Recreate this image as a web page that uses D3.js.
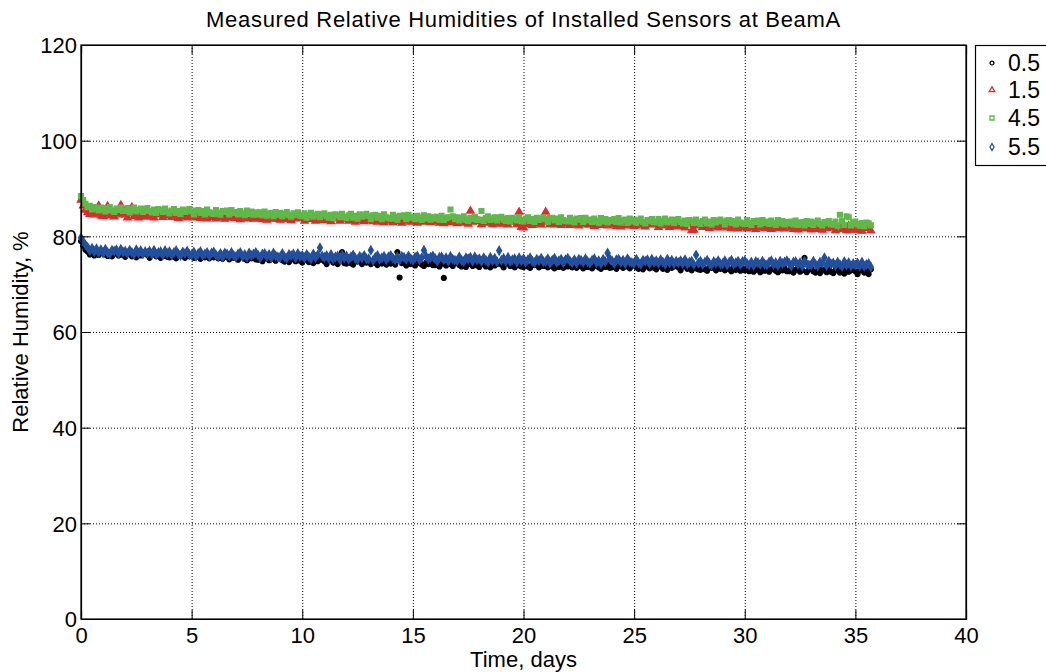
<!DOCTYPE html>
<html>
<head>
<meta charset="utf-8">
<script src="https://cdn.jsdelivr.net/npm/d3@7"></script>
<style>
  html, body { margin: 0; padding: 0; background: #fff; }
  svg { display: block; font-family: "Liberation Sans", Arial, sans-serif; }
</style>
</head>
<body>
<svg id="chart" width="1046" height="672"></svg>
<script>
// ---------------- data ----------------
const title = "Measured Relative Humidities of Installed Sensors at BeamA";
const xLabel = "Time, days";
const yLabel = "Relative Humidity, %";
const xTicks = [0, 5, 10, 15, 20, 25, 30, 35, 40];
const yTicks = [0, 20, 40, 60, 80, 100, 120];
const seriesNames = ["0.5", "1.5", "4.5", "5.5"];

// sample times (days), one row per day
const days = [
  0, 0.1, 0.2, 0.3, 0.4, 0.5, 0.6, 0.7, 0.8, 0.9,
  1, 1.1, 1.2, 1.3, 1.4, 1.5, 1.6, 1.7, 1.8, 1.9,
  2, 2.1, 2.2, 2.3, 2.4, 2.5, 2.6, 2.7, 2.8, 2.9,
  3, 3.1, 3.2, 3.3, 3.4, 3.5, 3.6, 3.7, 3.8, 3.9,
  4, 4.1, 4.2, 4.3, 4.4, 4.5, 4.6, 4.7, 4.8, 4.9,
  5, 5.1, 5.2, 5.3, 5.4, 5.5, 5.6, 5.7, 5.8, 5.9,
  6, 6.1, 6.2, 6.3, 6.4, 6.5, 6.6, 6.7, 6.8, 6.9,
  7, 7.1, 7.2, 7.3, 7.4, 7.5, 7.6, 7.7, 7.8, 7.9,
  8, 8.1, 8.2, 8.3, 8.4, 8.5, 8.6, 8.7, 8.8, 8.9,
  9, 9.1, 9.2, 9.3, 9.4, 9.5, 9.6, 9.7, 9.8, 9.9,
  10, 10.1, 10.2, 10.3, 10.4, 10.5, 10.6, 10.7, 10.8, 10.9,
  11, 11.1, 11.2, 11.3, 11.4, 11.5, 11.6, 11.7, 11.8, 11.9,
  12, 12.1, 12.2, 12.3, 12.4, 12.5, 12.6, 12.7, 12.8, 12.9,
  13, 13.1, 13.2, 13.3, 13.4, 13.5, 13.6, 13.7, 13.8, 13.9,
  14, 14.1, 14.2, 14.3, 14.4, 14.5, 14.6, 14.7, 14.8, 14.9,
  15, 15.1, 15.2, 15.3, 15.4, 15.5, 15.6, 15.7, 15.8, 15.9,
  16, 16.1, 16.2, 16.3, 16.4, 16.5, 16.6, 16.7, 16.8, 16.9,
  17, 17.1, 17.2, 17.3, 17.4, 17.5, 17.6, 17.7, 17.8, 17.9,
  18, 18.1, 18.2, 18.3, 18.4, 18.5, 18.6, 18.7, 18.8, 18.9,
  19, 19.1, 19.2, 19.3, 19.4, 19.5, 19.6, 19.7, 19.8, 19.9,
  20, 20.1, 20.2, 20.3, 20.4, 20.5, 20.6, 20.7, 20.8, 20.9,
  21, 21.1, 21.2, 21.3, 21.4, 21.5, 21.6, 21.7, 21.8, 21.9,
  22, 22.1, 22.2, 22.3, 22.4, 22.5, 22.6, 22.7, 22.8, 22.9,
  23, 23.1, 23.2, 23.3, 23.4, 23.5, 23.6, 23.7, 23.8, 23.9,
  24, 24.1, 24.2, 24.3, 24.4, 24.5, 24.6, 24.7, 24.8, 24.9,
  25, 25.1, 25.2, 25.3, 25.4, 25.5, 25.6, 25.7, 25.8, 25.9,
  26, 26.1, 26.2, 26.3, 26.4, 26.5, 26.6, 26.7, 26.8, 26.9,
  27, 27.1, 27.2, 27.3, 27.4, 27.5, 27.6, 27.7, 27.8, 27.9,
  28, 28.1, 28.2, 28.3, 28.4, 28.5, 28.6, 28.7, 28.8, 28.9,
  29, 29.1, 29.2, 29.3, 29.4, 29.5, 29.6, 29.7, 29.8, 29.9,
  30, 30.1, 30.2, 30.3, 30.4, 30.5, 30.6, 30.7, 30.8, 30.9,
  31, 31.1, 31.2, 31.3, 31.4, 31.5, 31.6, 31.7, 31.8, 31.9,
  32, 32.1, 32.2, 32.3, 32.4, 32.5, 32.6, 32.7, 32.8, 32.9,
  33, 33.1, 33.2, 33.3, 33.4, 33.5, 33.6, 33.7, 33.8, 33.9,
  34, 34.1, 34.2, 34.3, 34.4, 34.5, 34.6, 34.7, 34.8, 34.9,
  35, 35.1, 35.2, 35.3, 35.4, 35.5, 35.6, 35.7
];

// sensor at 0.5
const rh05 = [
  79.0, 78.0, 77.2, 76.8, 76.2, 76.9, 76.0, 76.7, 76.1, 76.5,
  76.8, 76.2, 75.9, 76.5, 75.8, 76.6, 76.4, 76.0, 76.7, 76.1,
  75.7, 76.3, 76.6, 75.8, 76.2, 75.6, 76.5, 76.0, 76.3, 76.6,
  76.1, 75.5, 76.3, 76.4, 75.8, 76.2, 75.5, 76.5, 75.9, 75.7,
  75.6, 76.4, 75.7, 75.4, 76.2, 76.0, 76.3, 75.5, 76.4, 75.8,
  76.0, 75.5, 76.2, 75.7, 75.3, 76.3, 75.6, 76.1, 75.4, 75.9,
  75.6, 76.0, 75.4, 76.2, 75.3, 75.7, 75.9, 75.2, 76.1, 75.5,
  75.8, 75.1, 75.6, 76.0, 75.3, 75.0, 75.7, 75.4, 75.9, 75.2,
  75.1, 75.7, 74.8, 75.4, 75.8, 75.0, 75.3, 75.6, 74.9, 75.5,
  75.6, 75.0, 74.7, 75.3, 74.6, 75.4, 75.2, 74.8, 75.5, 74.9,
  74.5, 75.1, 75.4, 74.6, 75.0, 74.4, 75.3, 74.8, 75.1, 75.4,
  74.8, 74.2, 75.0, 75.1, 74.5, 74.9, 74.2, 75.2, 76.7, 74.4,
  74.3, 75.1, 74.4, 74.1, 74.9, 74.7, 75.0, 74.2, 75.1, 74.5,
  74.7, 74.2, 74.9, 74.4, 74.0, 75.0, 74.3, 74.8, 74.1, 74.6,
  74.3, 74.7, 74.1, 76.7, 71.4, 74.4, 74.6, 73.9, 74.8, 74.2,
  74.6, 73.9, 74.4, 74.8, 74.1, 73.8, 74.5, 74.2, 74.7, 74.0,
  74.0, 74.6, 73.7, 74.3, 71.3, 73.9, 74.2, 74.5, 73.8, 74.4,
  74.6, 74.0, 73.7, 74.3, 73.6, 74.4, 74.2, 73.8, 74.5, 73.9,
  73.6, 74.2, 74.5, 73.7, 74.1, 73.5, 74.4, 73.9, 74.2, 74.5,
  74.1, 73.5, 74.3, 74.4, 73.8, 74.2, 73.5, 74.5, 73.9, 73.7,
  73.6, 74.4, 73.7, 73.4, 74.2, 74.0, 74.3, 73.5, 74.4, 73.8,
  74.0, 73.5, 74.2, 73.7, 73.3, 74.3, 73.6, 74.1, 73.4, 73.9,
  73.7, 74.1, 73.5, 74.3, 73.4, 73.8, 74.0, 73.3, 74.2, 73.6,
  74.0, 73.3, 73.8, 74.2, 73.5, 73.2, 73.9, 73.6, 74.1, 73.4,
  73.5, 74.1, 73.2, 73.8, 74.2, 73.4, 73.7, 74.0, 73.3, 73.9,
  74.1, 73.5, 73.2, 73.8, 73.1, 73.9, 73.7, 73.3, 74.0, 73.4,
  73.1, 73.7, 74.0, 73.2, 73.6, 73.0, 73.9, 73.4, 73.7, 74.0,
  73.5, 72.9, 73.7, 73.8, 73.2, 73.6, 72.9, 73.9, 73.3, 73.1,
  73.0, 73.8, 73.1, 72.8, 73.6, 73.4, 73.7, 72.9, 73.8, 73.2,
  73.4, 72.9, 73.6, 73.1, 72.7, 73.7, 73.0, 73.5, 72.8, 73.3,
  72.9, 73.3, 72.7, 73.5, 72.6, 73.0, 73.2, 72.5, 73.4, 72.8,
  73.3, 72.6, 73.1, 73.5, 72.8, 72.5, 73.2, 72.9, 73.4, 72.7,
  72.7, 73.3, 72.4, 73.0, 73.4, 72.6, 72.9, 75.5, 72.5, 73.1,
  73.3, 72.7, 72.4, 73.0, 72.3, 73.1, 72.9, 72.5, 73.2, 72.6,
  72.3, 72.9, 73.2, 72.4, 72.8, 72.2, 73.1, 72.6, 72.9, 73.2,
  72.7, 72.1, 72.9, 73.0, 72.4, 72.8, 72.1, 73.1
];

// sensor at 1.5
const rh15 = [
  87.6, 86.4, 85.5, 85.0, 84.6, 85.1, 84.5, 84.9, 86.4, 84.3,
  84.2, 84.8, 86.3, 84.3, 84.7, 84.1, 85.0, 84.5, 86.5, 85.1,
  84.5, 83.9, 84.7, 86.1, 84.2, 84.6, 83.9, 84.9, 84.3, 84.1,
  84.1, 84.9, 84.2, 83.9, 84.7, 84.5, 84.8, 84.0, 84.9, 84.3,
  84.5, 84.0, 84.7, 84.2, 83.8, 84.8, 84.1, 84.6, 83.9, 84.4,
  84.1, 84.5, 83.9, 84.7, 83.8, 84.2, 84.4, 83.7, 84.6, 84.0,
  84.4, 83.7, 84.2, 84.6, 83.9, 83.6, 84.3, 84.0, 84.5, 83.8,
  83.8, 84.4, 83.5, 84.1, 84.5, 83.7, 84.0, 84.3, 83.6, 84.2,
  84.4, 83.8, 83.5, 84.1, 83.4, 84.2, 84.0, 83.6, 84.3, 83.7,
  83.4, 84.0, 84.3, 83.5, 83.9, 83.3, 84.2, 83.7, 84.0, 84.3,
  83.8, 83.2, 84.0, 84.1, 83.5, 83.9, 83.2, 84.2, 83.6, 83.4,
  83.3, 84.1, 83.4, 83.1, 83.9, 83.7, 84.0, 83.2, 84.1, 83.5,
  83.7, 83.2, 83.9, 83.4, 83.0, 84.0, 83.3, 83.8, 83.1, 83.6,
  83.3, 83.7, 83.1, 83.9, 83.0, 83.4, 83.6, 82.9, 83.8, 83.2,
  83.6, 82.9, 83.4, 83.8, 83.1, 82.8, 83.5, 83.2, 83.7, 83.0,
  83.1, 83.7, 82.8, 83.4, 83.8, 83.0, 83.3, 83.6, 82.9, 83.5,
  83.7, 83.1, 82.8, 83.4, 82.7, 83.5, 83.3, 82.9, 83.6, 83.0,
  82.7, 83.3, 83.6, 82.8, 83.2, 82.6, 85.3, 83.0, 83.3, 83.6,
  83.1, 82.5, 83.3, 83.4, 82.8, 83.2, 82.5, 83.5, 82.9, 82.7,
  82.6, 83.4, 82.7, 82.4, 83.2, 83.0, 83.3, 82.5, 85.1, 81.9,
  81.8, 82.5, 83.2, 82.7, 82.3, 83.3, 82.6, 83.1, 82.4, 82.9,
  85.1, 83.1, 82.5, 83.3, 82.4, 82.8, 83.0, 82.3, 83.2, 82.6,
  83.0, 82.3, 82.8, 83.2, 82.5, 82.2, 82.9, 82.6, 83.1, 82.4,
  82.4, 83.0, 82.1, 82.7, 83.1, 82.3, 82.6, 82.9, 82.2, 82.8,
  83.0, 82.4, 82.1, 82.7, 82.0, 82.8, 82.6, 82.2, 82.9, 82.3,
  82.1, 82.7, 83.0, 82.2, 82.6, 82.0, 82.9, 82.4, 82.7, 83.0,
  82.5, 81.9, 82.7, 82.8, 82.2, 82.6, 81.9, 82.9, 82.3, 82.1,
  82.0, 82.8, 82.1, 81.8, 82.6, 82.4, 81.2, 81.3, 82.8, 82.2,
  82.4, 81.9, 82.6, 82.1, 81.7, 82.7, 82.0, 82.5, 81.8, 82.3,
  82.0, 82.4, 81.8, 82.6, 81.7, 82.1, 82.3, 81.6, 82.5, 81.9,
  82.3, 81.6, 82.1, 82.5, 81.8, 81.5, 82.2, 81.9, 82.4, 81.7,
  81.8, 82.4, 81.5, 82.1, 82.5, 81.7, 82.0, 82.3, 81.6, 82.2,
  82.4, 81.8, 81.5, 82.1, 81.4, 82.2, 82.0, 81.6, 82.3, 81.7,
  81.4, 82.0, 82.3, 81.5, 81.9, 81.3, 82.2, 81.7, 82.0, 82.3,
  81.8, 81.2, 82.0, 82.1, 81.5, 81.9, 81.2, 82.2, 81.6, 81.4,
  81.3, 82.1, 81.4, 81.1, 81.9, 81.7, 82.0, 81.2
];

// sensor at 4.5
const rh45 = [
  88.4, 87.6, 86.8, 86.1, 86.4, 85.6, 86.1, 85.9, 85.4, 86.0,
  85.9, 85.2, 85.7, 86.1, 85.4, 85.1, 85.8, 85.5, 86.0, 85.3,
  85.3, 85.9, 85.0, 85.6, 86.0, 85.2, 85.5, 85.8, 85.1, 85.7,
  85.9, 85.3, 85.0, 85.6, 84.9, 85.7, 85.5, 85.1, 85.8, 85.2,
  84.8, 85.4, 85.7, 84.9, 85.3, 84.7, 85.6, 85.1, 85.4, 85.7,
  85.2, 84.6, 85.4, 85.5, 84.9, 85.3, 84.6, 85.6, 85.0, 84.8,
  84.7, 85.5, 84.8, 84.5, 85.3, 85.1, 85.4, 84.6, 85.5, 84.9,
  85.1, 84.6, 85.3, 84.8, 84.4, 85.4, 84.7, 85.2, 84.5, 85.0,
  84.6, 85.0, 84.4, 85.2, 84.3, 84.7, 84.9, 84.2, 85.1, 84.5,
  84.9, 84.2, 84.7, 85.1, 84.4, 84.1, 84.8, 84.5, 85.0, 84.3,
  84.2, 84.8, 83.9, 84.5, 84.9, 84.1, 84.4, 84.7, 84.0, 84.6,
  84.8, 84.2, 83.9, 84.5, 83.8, 84.6, 84.4, 84.0, 84.7, 84.1,
  83.8, 84.4, 84.7, 83.9, 84.3, 83.7, 84.6, 84.1, 84.4, 84.7,
  84.2, 83.6, 84.4, 84.5, 83.9, 84.3, 83.6, 84.6, 84.0, 83.8,
  83.7, 84.5, 83.8, 83.5, 84.3, 84.1, 84.4, 83.6, 84.5, 83.9,
  84.1, 83.6, 84.3, 83.8, 83.4, 84.4, 83.7, 84.2, 83.5, 84.0,
  83.7, 84.1, 83.5, 84.3, 83.4, 83.8, 84.0, 85.6, 84.2, 83.6,
  84.0, 83.3, 83.8, 84.2, 83.5, 83.2, 83.9, 83.6, 84.1, 83.4,
  83.5, 85.3, 83.2, 83.8, 84.2, 83.4, 83.7, 84.0, 83.3, 83.9,
  84.1, 83.5, 83.2, 83.8, 83.1, 83.9, 83.7, 83.3, 84.0, 83.4,
  83.1, 83.7, 84.0, 83.2, 83.6, 83.0, 83.9, 83.4, 83.7, 84.0,
  83.6, 83.0, 83.8, 83.9, 83.3, 83.7, 83.0, 84.0, 83.4, 83.2,
  83.1, 83.9, 83.2, 82.9, 83.7, 83.5, 83.8, 83.0, 83.9, 83.3,
  83.5, 83.0, 83.7, 83.2, 82.8, 83.8, 83.1, 83.6, 82.9, 83.4,
  83.2, 83.6, 83.0, 83.8, 82.9, 83.3, 83.5, 82.8, 83.7, 83.1,
  83.5, 82.8, 83.3, 83.7, 83.0, 82.7, 83.4, 83.1, 83.6, 82.9,
  83.0, 83.6, 82.7, 83.3, 83.7, 82.9, 83.2, 83.5, 82.8, 83.4,
  83.6, 83.0, 82.7, 83.3, 82.6, 83.4, 83.2, 82.8, 83.5, 82.9,
  82.6, 83.2, 83.5, 82.7, 83.1, 82.5, 83.4, 82.9, 83.2, 83.5,
  83.1, 82.5, 83.3, 83.4, 82.8, 83.2, 82.5, 83.5, 82.9, 82.7,
  82.6, 83.4, 82.7, 82.4, 83.2, 83.0, 83.3, 82.5, 83.4, 82.8,
  83.1, 82.6, 83.3, 82.8, 82.4, 83.4, 82.7, 83.2, 82.5, 83.0,
  82.7, 83.1, 82.5, 83.3, 82.4, 82.8, 83.0, 82.3, 83.2, 82.6,
  83.1, 82.4, 82.9, 83.3, 82.6, 82.3, 83.0, 82.7, 83.2, 82.5,
  82.5, 83.1, 82.2, 84.5, 83.2, 82.4, 84.2, 84.0, 82.3, 82.9,
  83.1, 82.5, 82.2, 82.8, 82.1, 82.9, 82.7, 82.3
];

// sensor at 5.5
const rh55 = [
  79.7, 78.9, 78.2, 77.7, 77.0, 77.5, 76.8, 77.4, 76.6, 77.2,
  76.5, 77.3, 76.6, 76.3, 77.1, 76.9, 77.2, 76.4, 77.3, 76.7,
  76.9, 76.4, 77.1, 76.6, 76.2, 77.2, 76.5, 77.0, 76.3, 76.8,
  76.5, 76.9, 76.3, 77.1, 76.2, 76.6, 76.8, 76.1, 77.0, 76.4,
  76.8, 76.1, 76.6, 77.0, 76.3, 76.0, 76.7, 76.4, 76.9, 76.2,
  76.1, 76.7, 75.8, 76.4, 76.8, 76.0, 76.3, 76.6, 75.9, 76.5,
  76.7, 76.1, 75.8, 76.4, 75.7, 76.5, 76.3, 75.9, 76.6, 76.0,
  75.7, 76.3, 76.6, 75.8, 76.2, 75.6, 76.5, 76.0, 76.3, 76.6,
  76.1, 75.5, 76.3, 76.4, 75.8, 76.2, 75.5, 76.5, 75.9, 75.7,
  75.6, 76.4, 75.7, 75.4, 76.2, 76.0, 76.3, 75.5, 76.4, 75.8,
  76.0, 75.5, 76.2, 75.7, 75.3, 76.3, 75.6, 76.1, 77.6, 75.9,
  75.6, 76.0, 75.4, 76.2, 75.3, 75.7, 75.9, 75.2, 76.1, 75.5,
  75.9, 75.2, 75.7, 76.1, 75.4, 75.1, 75.8, 75.5, 76.0, 75.3,
  75.3, 77.1, 75.0, 75.6, 76.0, 75.2, 75.5, 75.8, 75.1, 75.7,
  76.0, 75.4, 75.1, 75.7, 75.0, 75.8, 75.6, 75.2, 75.9, 75.3,
  75.0, 75.6, 75.9, 75.1, 75.5, 77.1, 75.8, 75.3, 75.6, 75.9,
  75.4, 74.8, 75.6, 75.7, 75.1, 75.5, 74.8, 75.8, 75.2, 75.0,
  74.9, 75.7, 75.0, 74.7, 75.5, 75.3, 75.6, 74.8, 75.7, 75.1,
  75.3, 74.8, 75.5, 75.0, 74.6, 75.6, 74.9, 75.4, 74.7, 77.0,
  75.0, 75.4, 74.8, 75.6, 74.7, 75.1, 75.3, 74.6, 75.5, 74.9,
  75.3, 74.6, 75.1, 75.5, 74.8, 74.5, 75.2, 74.9, 75.4, 74.7,
  74.7, 75.3, 74.4, 75.0, 75.4, 74.6, 74.9, 75.2, 74.5, 75.1,
  75.4, 74.8, 74.5, 75.1, 74.4, 75.2, 75.0, 74.6, 75.3, 74.7,
  74.4, 75.0, 75.3, 74.5, 74.9, 74.3, 75.2, 74.7, 76.5, 75.3,
  74.9, 74.3, 75.1, 75.2, 74.6, 75.0, 74.3, 75.3, 74.7, 74.5,
  74.4, 75.2, 74.5, 74.2, 75.0, 74.8, 75.1, 74.3, 75.2, 74.6,
  74.9, 74.4, 75.1, 74.6, 74.2, 75.2, 74.5, 75.0, 74.3, 74.8,
  74.5, 74.9, 74.3, 75.1, 74.2, 74.6, 74.8, 74.1, 76.1, 74.4,
  74.8, 74.1, 74.6, 75.0, 74.3, 74.0, 74.7, 74.4, 74.9, 74.2,
  74.3, 74.9, 74.0, 74.6, 75.0, 74.2, 74.5, 74.8, 74.1, 74.7,
  74.9, 74.3, 74.0, 74.6, 73.9, 74.7, 74.5, 74.1, 74.8, 74.2,
  74.0, 74.6, 74.9, 74.1, 74.5, 73.9, 74.8, 74.3, 74.6, 74.9,
  74.4, 73.8, 74.6, 74.7, 74.1, 74.5, 73.8, 74.8, 74.2, 74.0,
  74.0, 74.8, 74.1, 73.8, 74.6, 74.4, 75.5, 73.9, 74.8, 74.2,
  74.4, 73.9, 74.6, 74.1, 73.7, 74.7, 74.0, 74.5, 73.8, 74.3,
  74.0, 74.4, 73.8, 74.6, 73.7, 74.1, 74.3, 73.6
];

const seriesValues = [rh05, rh15, rh45, rh55];
const seriesColors = ["#000000", "#e8262b", "#5dba47", "#2250a0"];

// ---------------- layout ----------------
const svg = d3.select("#chart");

const x = d3.scaleLinear().domain([0, 40]).range([81, 966]);
const y = d3.scaleLinear().domain([0, 120]).range([619, 45]);

const symbolTypes = [d3.symbolCircle, d3.symbolTriangle, d3.symbolSquare, d3.symbolDiamond];
const plotSizes = [18, 22, 22, 20];
const legendSizes = [12, 14, 16, 14];

// grid lines (dotted)
const grid = svg.append("g").attr("class", "grid");
grid.append("g")
  .attr("transform", `translate(0,${y(0)})`)
  .call(d3.axisBottom(x).tickValues(xTicks.slice(1, -1)).tickSize(-(y(0) - y(120))).tickFormat(""))
  .call(g => g.select(".domain").remove())
  .call(g => g.selectAll("line").attr("stroke", "#000").attr("stroke-width", 1).attr("stroke-dasharray", "1,2"));
grid.append("g")
  .attr("transform", `translate(${x(0)},0)`)
  .call(d3.axisLeft(y).tickValues(yTicks.slice(1, -1)).tickSize(-(x(40) - x(0))).tickFormat(""))
  .call(g => g.select(".domain").remove())
  .call(g => g.selectAll("line").attr("stroke", "#000").attr("stroke-width", 1).attr("stroke-dasharray", "1,2"));

// data markers
const plot = svg.append("g").attr("class", "plot");
seriesValues.forEach((vals, si) => {
  const sym = d3.symbol().type(symbolTypes[si]).size(plotSizes[si]);
  plot.append("g")
    .selectAll("path")
    .data(vals.map((v, i) => [days[i], v]))
    .join("path")
    .attr("d", sym)
    .attr("transform", d => `translate(${x(d[0])},${y(d[1])})`)
    .attr("fill", seriesColors[si])
    .attr("stroke", seriesColors[si])
    .attr("stroke-width", 1.4);
});

// axes
const fontSize = 22;
const xAxis = svg.append("g")
  .attr("transform", `translate(0,${y(0)})`)
  .call(d3.axisBottom(x).tickValues(xTicks).tickSize(-9).tickFormat(d3.format("d")));
xAxis.selectAll("text").attr("y", 24).attr("dy", 0);

const yAxis = svg.append("g")
  .attr("transform", `translate(${x(0)},0)`)
  .call(d3.axisLeft(y).tickValues(yTicks).tickSize(-9).tickFormat(d3.format("d")));
yAxis.selectAll("text").attr("x", -4).attr("dy", "0.36em");

const xTop = svg.append("g")
  .attr("transform", `translate(0,${y(120)})`)
  .call(d3.axisTop(x).tickValues(xTicks).tickSize(-9).tickFormat(""));
const yRight = svg.append("g")
  .attr("transform", `translate(${x(40)},0)`)
  .call(d3.axisRight(y).tickValues(yTicks).tickSize(-9).tickFormat(""));

[xAxis, yAxis, xTop, yRight].forEach(g => {
  g.select(".domain").attr("stroke", "#000").attr("stroke-width", 1.2);
  g.selectAll(".tick line").attr("stroke", "#000").attr("stroke-width", 1);
  g.selectAll("text").attr("font-size", fontSize).attr("fill", "#000")
    .attr("font-family", "'Liberation Sans', Arial, sans-serif");
});
svg.append("rect")
  .attr("x", x(0)).attr("y", y(120))
  .attr("width", x(40) - x(0)).attr("height", y(0) - y(120))
  .attr("fill", "none").attr("stroke", "#000").attr("stroke-width", 1.2);

// title and labels
svg.append("text")
  .attr("x", (x(0) + x(40)) / 2).attr("y", 27)
  .attr("text-anchor", "middle").attr("font-size", 22).attr("letter-spacing", 0.7).attr("fill", "#000")
  .text(title);
svg.append("text")
  .attr("x", (x(0) + x(40)) / 2).attr("y", 667)
  .attr("text-anchor", "middle").attr("font-size", fontSize).attr("fill", "#000")
  .text(xLabel);
svg.append("text")
  .attr("transform", `translate(28,${(y(0) + y(120)) / 2}) rotate(-90)`)
  .attr("text-anchor", "middle").attr("font-size", fontSize).attr("fill", "#000")
  .text(yLabel);

// legend
const legend = svg.append("g").attr("class", "legend");
legend.append("rect")
  .attr("x", 975.5).attr("y", 45.5).attr("width", 90).attr("height", 120)
  .attr("fill", "#fff").attr("stroke", "#000").attr("stroke-width", 1.2);
const legendRows = [63, 90, 118, 147];
seriesNames.forEach((name, si) => {
  legend.append("path")
    .attr("d", d3.symbol().type(symbolTypes[si]).size(legendSizes[si])())
    .attr("transform", `translate(992,${legendRows[si]})`)
    .attr("fill", "none").attr("stroke", seriesColors[si]).attr("stroke-width", 1.3);
  legend.append("text")
    .attr("x", 1008).attr("y", legendRows[si]).attr("dy", "0.36em")
    .attr("font-size", 23).attr("fill", "#000")
    .text(name);
});
</script>
</body>
</html>
